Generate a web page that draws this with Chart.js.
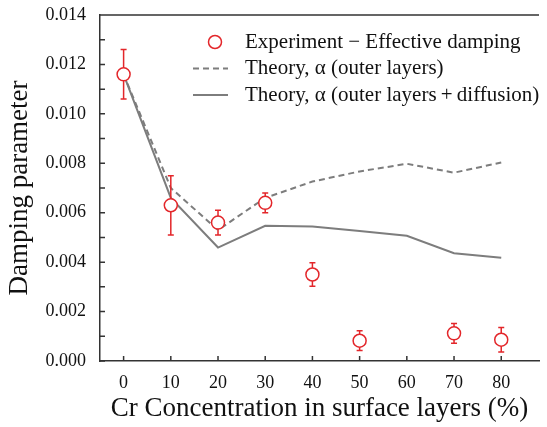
<!DOCTYPE html>
<html>
<head>
<meta charset="utf-8">
<script src="https://cdn.jsdelivr.net/npm/chart.js@4.4.1/dist/chart.umd.min.js"></script>
<style>
  html, body { margin: 0; padding: 0; background: #fff; }
  #wrap { width: 547px; height: 427px; }
</style>
</head>
<body>
<div id="wrap"><canvas id="chart"></canvas></div>
<script>
// Cr concentration (%) on the x axis
const crConc = [0, 10, 20, 30, 40, 50, 60, 70, 80];
// Experiment - effective damping (no point at 60 %)
const expDamping = [0.0116, 0.0063, 0.0056, 0.0064, 0.0035, 0.00082, null, 0.00112, 0.00086];
const expErr = [0.0010, 0.0012, 0.0005, 0.0004, 0.00048, 0.0004, null, 0.0004, 0.0005];
// Theory, alpha (outer layers)
const theoryOuter = [0.0116, 0.0070, 0.0053, 0.0066, 0.00726, 0.00767, 0.00798, 0.00762, 0.00803];
// Theory, alpha (outer layers + diffusion)
const theoryDiff = [0.0116, 0.0066, 0.00459, 0.00547, 0.00544, 0.00526, 0.00507, 0.00436, 0.00418];
// tick values
const xTicks = [0, 10, 20, 30, 40, 50, 60, 70, 80];
const yTicks = [0, 0.001, 0.002, 0.003, 0.004, 0.005, 0.006, 0.007, 0.008, 0.009, 0.010, 0.011, 0.012, 0.013, 0.014];

const RED = '#e3262a';
const GREY = '#7d7d7d';
const SERIF = '"Liberation Serif", "DejaVu Serif", serif';

const toPoints = ys => crConc.map((x, i) => ({ x: x, y: ys[i] }));

// error bars for the experiment, drawn just before its markers
const errorBars = {
    id: 'errorBars',
    beforeDatasetDraw(chart, args) {
        if (args.index !== 0) return;
        const { ctx, scales: { x, y } } = chart;
        ctx.save();
        ctx.strokeStyle = RED;
        ctx.lineWidth = 1.5;
        crConc.forEach((c, i) => {
            if (expDamping[i] === null) return;
            const px = x.getPixelForValue(c);
            const top = y.getPixelForValue(expDamping[i] + expErr[i]);
            const bot = y.getPixelForValue(expDamping[i] - expErr[i]);
            ctx.beginPath();
            ctx.moveTo(px, top); ctx.lineTo(px, bot);
            ctx.moveTo(px - 3, top); ctx.lineTo(px + 3, top);
            ctx.moveTo(px - 3, bot); ctx.lineTo(px + 3, bot);
            ctx.stroke();
        });
        ctx.restore();
    }
};

// frame line on top and inward tick marks
const frameTicks = {
    id: 'frameTicks',
    afterDraw(chart) {
        const { ctx, chartArea: a, scales: { x, y } } = chart;
        ctx.save();
        ctx.strokeStyle = '#333';
        ctx.lineWidth = 1.5;
        ctx.beginPath();
        ctx.moveTo(a.left, a.top); ctx.lineTo(a.right, a.top);
        xTicks.forEach(v => {
            const px = x.getPixelForValue(v);
            ctx.moveTo(px, a.bottom); ctx.lineTo(px, a.bottom - 5);
        });
        yTicks.forEach(v => {
            const py = y.getPixelForValue(v);
            ctx.moveTo(a.left, py); ctx.lineTo(a.left + 5, py);
        });
        ctx.stroke();
        ctx.restore();
    }
};

// legend inside the plot, top right
const legendBox = {
    id: 'legendBox',
    afterDraw(chart) {
        const { ctx, chartArea: a } = chart;
        const items = chart.data.datasets;
        ctx.save();
        ctx.font = '21px ' + SERIF;
        ctx.textBaseline = 'middle';
        items.forEach((ds, i) => {
            const yy = a.top + 27 + i * 26.5;
            const x0 = a.left + 93, x1 = a.left + 128;
            if (i === 0) {
                ctx.beginPath();
                ctx.arc(a.left + 115, yy, 6.5, 0, Math.PI * 2);
                ctx.fillStyle = '#fff';
                ctx.fill();
                ctx.strokeStyle = RED;
                ctx.lineWidth = 1.5;
                ctx.stroke();
            } else {
                ctx.beginPath();
                ctx.strokeStyle = GREY;
                ctx.lineWidth = 2;
                ctx.setLineDash(ds.borderDash || []);
                ctx.moveTo(x0, yy); ctx.lineTo(x1, yy);
                ctx.stroke();
                ctx.setLineDash([]);
            }
            ctx.fillStyle = '#111';
            ctx.fillText(ds.label, a.left + 145, yy);
        });
        ctx.restore();
    }
};

new Chart(document.getElementById('chart'), {
    type: 'line',
    data: {
        datasets: [
            {
                label: 'Experiment \u2212 Effective damping',
                data: toPoints(expDamping),
                showLine: false,
                pointRadius: 6.5,
                pointBorderWidth: 1.5,
                pointBorderColor: RED,
                pointBackgroundColor: '#fff'
            },
            {
                label: 'Theory, \u03B1 (outer layers)',
                data: toPoints(theoryOuter),
                borderColor: GREY,
                borderWidth: 2,
                borderDash: [6, 4],
                pointRadius: 0,
                tension: 0
            },
            {
                label: 'Theory, \u03B1 (outer layers\u2009+\u2009diffusion)',
                data: toPoints(theoryDiff),
                borderColor: GREY,
                borderWidth: 2,
                pointRadius: 0,
                tension: 0
            }
        ]
    },
    options: {
        responsive: true,
        maintainAspectRatio: false,
        animation: false,
        layout: { padding: { top: 15, right: 2, left: 0, bottom: 0 } },
        plugins: {
            legend: { display: false },
            tooltip: { enabled: false }
        },
        scales: {
            x: {
                type: 'linear',
                min: -5,
                max: 88,
                afterBuildTicks: s => { s.ticks = xTicks.map(v => ({ value: v })); },
                afterFit: s => { s.height = 66; },
                grid: { display: false },
                border: { display: true, color: '#333', width: 1.5 },
                ticks: { color: '#111', padding: 3, font: { family: SERIF, size: 18 } },
                title: {
                    display: true,
                    text: 'Cr Concentration in surface layers (%)',
                    color: '#111',
                    padding: { top: 4, bottom: 2 },
                    font: { family: SERIF, size: 27 }
                }
            },
            y: {
                min: 0,
                max: 0.014,
                afterBuildTicks: s => { s.ticks = yTicks.filter((v, i) => i % 2 === 0).map(v => ({ value: v })); },
                afterFit: s => { s.width = 100; s.paddingTop = 0; s.paddingBottom = 0; },
                grid: { display: false },
                border: { display: true, color: '#333', width: 1.5 },
                ticks: {
                    color: '#111',
                    padding: 6,
                    font: { family: SERIF, size: 18 },
                    callback: v => v.toFixed(3)
                },
                title: {
                    display: true,
                    text: 'Damping parameter',
                    color: '#111',
                    padding: { bottom: 8 },
                    font: { family: SERIF, size: 27 }
                }
            }
        }
    },
    plugins: [errorBars, frameTicks, legendBox]
});
</script>
</body>
</html>
